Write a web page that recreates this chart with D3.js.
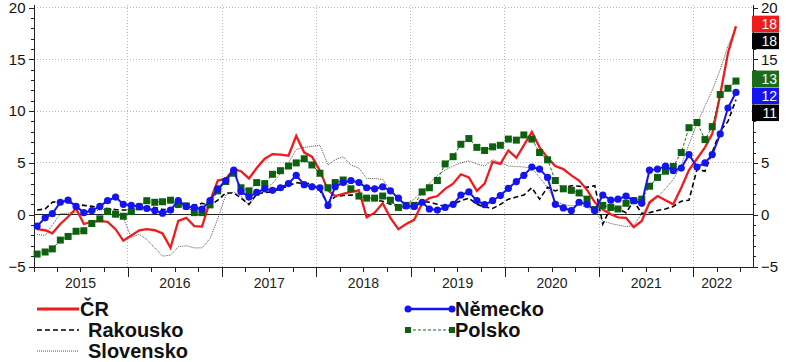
<!DOCTYPE html>
<html>
<head>
<meta charset="utf-8">
<script src="https://cdnjs.cloudflare.com/ajax/libs/d3/7.8.5/d3.min.js"></script>
<style>
  body { margin: 0; background: #fff; }
  svg { display: block; font-family: "Liberation Sans", Arial, sans-serif; }
  .axis path, .axis line { stroke: #222; shape-rendering: crispEdges; }
  .axis text { font-size: 15px; fill: #111; }
  .grid line { stroke: #b8b8b8; stroke-dasharray: 1,2; shape-rendering: crispEdges; }
  .legend text { font-size: 20px; font-weight: bold; fill: #111; }
</style>
</head>
<body>
<div class="g-chart"></div>
<script>
//Years shown on the x axis
var years = [2015, 2016, 2017, 2018, 2019, 2020, 2021, 2022];

//Left / right axis ticks
var yTicks = [-5, 0, 5, 10, 15, 20];

//Monthly values, Jan 2015 - Jun 2022
var cr = [-1.4, -1.5, -1.8, -0.9, -0.2, 0.6, -0.9, -0.7, -0.6, -0.7, -1.4, -2.5,
          -2.0, -1.5, -1.4, -1.5, -1.8, -3.2, -0.6, -0.3, -1.1, -1.15, 1.3, 3.3,
          3.45, 4.4, 4.2, 3.5, 4.5, 5.4, 5.85, 5.8, 5.7, 7.6, 6.0, 5.6,
          4.25, 2.35, 1.8, 2.0, 2.2, 2.35, -0.25, 0.2, 1.1, -0.3, -1.4, -0.9,
          -0.5, 1.1, 1.6, 1.8, 2.5, 3.0, 3.9, 3.6, 2.3, 3.0, 5.1, 4.9,
          6.2, 5.5, 6.7, 8.0, 6.5, 5.5, 4.7, 4.4, 3.8, 3.3, 2.4, 1.2,
          0.5, 0.05, -0.25, -0.3, -1.2, -0.6, 1.2, 1.8, 1.4, 1.0, 2.6, 4.3,
          5.4, 6.5, 7.8, 11.6, 15.6, 18.2];

var rakousko = [0.45, 0.55, 1.2, 1.3, 1.2, 1.0, 0.9, 0.8, 0.7, 0.6, 0.5, 0.45,
          0.45, 0.55, 0.8, 0.7, 0.5, 0.5, 0.75, 0.95, 0.9, 1.1, 0.9, 1.4,
          2.1, 2.1, 1.6, 1.0, 2.0, 2.15, 2.2, 2.5, 2.8, 3.1, 3.0, 3.0,
          2.3, 1.1, 1.75, 1.85, 1.9, 1.85, 1.6, 1.4, 1.3, 1.0, 0.85, 0.7,
          0.9, 1.3, 1.2, 1.0, 0.8, 1.0, 1.35, 1.6, 1.0, 0.75, 0.6, 1.0,
          1.5, 1.7, 1.9, 2.6, 1.5, 2.65, 2.3, 2.6, 2.8, 2.75, 2.65, 2.8,
          -0.9, 0.7, 0.55, 0.2, 1.3, 0.1, 0.2, 0.4, 0.55, 0.8, 1.3, 1.4,
          4.4, 4.2, 6.0, 8.1, 9.0, 11.1];

var slovensko = [-1.9, -2.0, -1.0, 0.1, 0.15, 0.25, 0.1, 0.3, 0.45, 0.55, 0.4, -0.3,
          -2.2, -1.9, -2.4, -3.2, -4.0, -3.9, -3.1, -3.0, -3.2, -3.2, -2.3, -0.4,
          1.9, 2.2, 1.8, 0.9, 2.0, 2.5, 3.0, 4.0, 5.0, 6.3, 6.5, 6.6,
          6.7, 4.8, 5.3, 5.6, 4.8, 4.5, 3.5, 3.5, 3.4, 2.4, 1.4, 1.0,
          1.5, 2.2, 3.0, 3.8, 4.3, 4.7, 5.0, 5.2, 4.9, 4.7, 5.3, 5.05,
          4.7, 4.65, 4.6, 4.5, 3.6, 2.6, 1.3, 1.0, 0.85, 0.95, 0.7, 0.2,
          -0.6, -0.85, -1.0, -1.15, -1.05, 0.1, 1.0, 1.7, 2.5, 3.4, 4.8, 6.8,
          8.8, 10.5, 12.0, 14.0, 16.3, 18.0];

var nemecko = [-1.1, -0.3, 0.1, 1.2, 1.4, 0.8, 0.2, 0.4, 0.8, 1.35, 1.7, 1.0,
          0.9, 0.8, 0.6, 0.4, 0.15, 0.45, 1.35, 0.8, 0.7, 0.55, 1.35, 2.5,
          3.3, 4.3, 2.25, 1.7, 2.15, 2.5, 2.35, 2.6, 3.0, 3.8, 2.9, 2.7,
          2.6, 0.9, 2.7, 3.1, 3.3, 3.1, 2.6, 2.5, 2.7, 2.3, 1.6, 0.85,
          0.8, 1.2, 0.55, 0.45, 0.7, 1.0, 1.9, 2.2, 1.35, 0.97, 1.35, 1.85,
          2.55, 3.2, 3.8, 4.6, 4.4, 3.6, 1.0, 0.65, 0.4, 1.2, 1.0, 0.4,
          1.9, 1.4, 1.5, 1.8, 1.35, 1.1, 4.3, 4.4, 4.7, 4.25, 4.5, 5.8,
          4.6, 5.0, 5.8, 7.8, 10.3, 11.8];

var polsko = [-3.8, -3.6, -3.3, -2.45, -2.1, -1.6, -1.55, -0.85, -0.4, 0.3, 0.05, -0.15,
          0.3, 0.75, 1.35, 1.2, 1.25, 1.4, 1.0, 0.85, 0.2, 0.2, 0.95, 2.3,
          3.2, 4.0, 2.6, 2.3, 3.1, 3.0, 3.9, 4.25, 4.7, 5.0, 5.4, 4.8,
          4.0, 2.6, 3.1, 3.35, 2.5, 1.8, 1.6, 1.6, 1.8, 1.4, 0.7, 0.9,
          0.9, 2.2, 2.6, 3.3, 4.9, 5.6, 6.8, 7.35, 6.5, 6.2, 6.55, 6.7,
          7.3, 7.2, 7.7, 7.3, 6.0, 5.3, 3.3, 2.5, 2.35, 2.1, 1.5, 0.5,
          0.9, 0.7, 0.55, 1.1, 1.35, 1.5, 2.75, 3.6, 4.2, 4.65, 6.0, 8.4,
          8.9, 7.25, 8.5, 11.6, 12.2, 12.9];

//Series names, in drawing order
var names = ["Slovensko", "Rakousko", "ČR", "Polsko", "Německo"];

var width = 786,
    height = 362;

var svg = d3.select(".g-chart").append("svg")
  .attr("width", width)
  .attr("height", height);

//Scales
var xScale = d3.scaleTime()
  .domain([new Date(2015, 0, 1), new Date(2022, 7, 20)])
  .range([33.5, 753]);

var yScale = d3.scaleLinear()
  .domain([-5, 20.3])
  .range([266.5, 4.4]);

//Dates in the middle of each month
function toPoints(values) {
  return values.map(function(v, i) {
    return {date: new Date(2015, i, 15), v: v};
  });
}

var series = {
  "ČR": {values: toPoints(cr), color: "#ee1c1c", width: 2.3, dash: null},
  "Rakousko": {values: toPoints(rakousko), color: "#000", width: 1.6, dash: "5,3"},
  "Slovensko": {values: toPoints(slovensko), color: "#555", width: 1, dash: "1,1"},
  "Německo": {values: toPoints(nemecko), color: "#1414f0", width: 2, dash: null},
  "Polsko": {values: toPoints(polsko), color: "#1b6b1b", width: 1, dash: "3,2"}
};

var x0 = xScale.range()[0], x1 = xScale.range()[1];

//Last value boxes on the right, stacked to avoid overlap
var lastVals = [
  {v: cr[cr.length - 1], color: "#ee1c1c"},
  {v: slovensko[slovensko.length - 1], color: "#000"},
  {v: polsko[polsko.length - 1], color: "#1b6b1b"},
  {v: nemecko[nemecko.length - 1], color: "#1414f0"},
  {v: rakousko[rakousko.length - 1], color: "#000"}
];

var boxH = 17, prevY = -100;
lastVals.forEach(function(d) {
  d.cy = Math.max(yScale(d.v) - 2, prevY + boxH);
  prevY = d.cy;
});

//Right axis labels hidden behind a box are left out
var rightTicks = yTicks.filter(function(t) {
  return !lastVals.some(function(d) { return Math.abs(yScale(t) - d.cy) < boxH / 2 + 5; });
});

//Gridlines
var grid = svg.append("g").attr("class", "grid");

grid.selectAll(".hgrid")
  .data([5, 10, 15, 20])
  .enter().append("line")
  .attr("x1", x0).attr("x2", x1)
  .attr("y1", function(d) { return yScale(d); })
  .attr("y2", function(d) { return yScale(d); });

grid.selectAll(".vgrid")
  .data(years.slice(1))
  .enter().append("line")
  .attr("x1", function(d) { return xScale(new Date(d, 0, 1)); })
  .attr("x2", function(d) { return xScale(new Date(d, 0, 1)); })
  .attr("y1", yScale(-5))
  .attr("y2", yScale(20.3));

//Zero line
svg.append("line")
  .attr("x1", x0).attr("x2", x1)
  .attr("y1", yScale(0)).attr("y2", yScale(0))
  .attr("stroke", "#222")
  .attr("shape-rendering", "crispEdges");

//Left axis with minor ticks
var minor = d3.range(-5, 21);

svg.append("g")
  .attr("class", "axis")
  .attr("transform", "translate(" + x0 + ",0)")
  .call(d3.axisLeft(yScale).tickValues(minor).tickSize(3).tickFormat("").tickSizeOuter(0));

svg.append("g")
  .attr("class", "axis")
  .attr("transform", "translate(" + x0 + ",0)")
  .call(d3.axisLeft(yScale).tickValues(yTicks).tickSize(5).tickSizeOuter(0));

//Right axis
svg.append("g")
  .attr("class", "axis")
  .attr("transform", "translate(" + x1 + ",0)")
  .call(d3.axisRight(yScale).tickValues(minor).tickSize(3).tickFormat("").tickSizeOuter(0));

svg.append("g")
  .attr("class", "axis")
  .attr("transform", "translate(" + x1 + ",0)")
  .call(d3.axisRight(yScale).tickValues(yTicks).tickSize(5).tickFormat("").tickSizeOuter(0));

svg.append("g")
  .attr("class", "axis")
  .attr("transform", "translate(" + x1 + ",0)")
  .call(d3.axisRight(yScale).tickValues(rightTicks).tickSize(5).tickSizeOuter(0))
  .select(".domain").remove();

//Bottom axis: quarter ticks, longer year ticks
var quarters = d3.timeMonth.every(3).range(new Date(2015, 0, 1), new Date(2022, 7, 20));

svg.append("g")
  .attr("class", "axis")
  .attr("transform", "translate(0," + yScale(-5) + ")")
  .call(d3.axisBottom(xScale).tickValues(quarters).tickSize(5).tickFormat("").tickSizeOuter(0));

svg.append("g")
  .attr("class", "axis")
  .attr("transform", "translate(0," + yScale(-5) + ")")
  .call(d3.axisBottom(xScale).tickValues(years.slice(1).map(function(d) { return new Date(d, 0, 1); }))
    .tickSize(10).tickFormat("").tickSizeOuter(0));

//Year labels centred in each year
svg.append("g")
  .selectAll("text")
  .data(years)
  .enter().append("text")
  .attr("x", function(d) {
    var end = d === 2022 ? new Date(2022, 6, 1) : new Date(d + 1, 0, 1);
    return (xScale(new Date(d, 0, 1)) + xScale(end)) / 2;
  })
  .attr("y", 288)
  .attr("text-anchor", "middle")
  .style("font-size", "14px")
  .style("fill", "#222")
  .text(function(d) { return d; });

//Lines
var line = d3.line()
  .x(function(d) { return xScale(d.date); })
  .y(function(d) { return yScale(d.v); });

names.forEach(function(name) {
  var s = series[name];
  svg.append("path")
    .datum(s.values)
    .attr("fill", "none")
    .attr("stroke", s.color)
    .attr("stroke-width", s.width)
    .attr("stroke-dasharray", s.dash)
    .attr("d", line);

  if (name === "Polsko") {
    svg.selectAll(".sq")
      .data(s.values)
      .enter().append("rect")
      .attr("x", function(d) { return xScale(d.date) - 3.5; })
      .attr("y", function(d) { return yScale(d.v) - 3.5; })
      .attr("width", 7)
      .attr("height", 7)
      .attr("fill", "#0d600d");
  }
  if (name === "Německo") {
    svg.selectAll(".dot")
      .data(s.values)
      .enter().append("circle")
      .attr("cx", function(d) { return xScale(d.date); })
      .attr("cy", function(d) { return yScale(d.v); })
      .attr("r", 3.6)
      .attr("fill", s.color);
  }
});

//Value boxes
lastVals.forEach(function(d) {
  svg.append("rect")
    .attr("x", 752)
    .attr("y", d.cy - boxH / 2)
    .attr("width", 27)
    .attr("height", boxH - 0.5)
    .attr("fill", d.color);
  svg.append("text")
    .attr("x", 777)
    .attr("y", d.cy + 5)
    .attr("text-anchor", "end")
    .style("font-size", "14px")
    .style("fill", "#fff")
    .text(Math.round(d.v));
});

//Legend
var legend = svg.append("g").attr("class", "legend");

var legendItems = [
  {name: "ČR", x: 37, y: 309, tx: 80},
  {name: "Rakousko", x: 37, y: 330, tx: 88},
  {name: "Slovensko", x: 37, y: 351, tx: 88},
  {name: "Německo", x: 408, y: 309, tx: 455},
  {name: "Polsko", x: 408, y: 330, tx: 455}
];

legendItems.forEach(function(d) {
  var s = series[d.name];
  var xe = d.x + (d.tx > 100 ? 44 : 42);
  legend.append("line")
    .attr("x1", d.x).attr("x2", xe)
    .attr("y1", d.y).attr("y2", d.y)
    .attr("stroke", s.color)
    .attr("stroke-width", d.name === "ČR" ? 3 : (d.name === "Německo" ? 2.5 : s.width))
    .attr("stroke-dasharray", s.dash);
  if (d.name === "Německo") {
    [d.x, xe].forEach(function(px) {
      legend.append("circle").attr("cx", px).attr("cy", d.y).attr("r", 3.5).attr("fill", s.color);
    });
  }
  if (d.name === "Polsko") {
    [d.x, xe].forEach(function(px) {
      legend.append("rect").attr("x", px - 3).attr("y", d.y - 3).attr("width", 6).attr("height", 6).attr("fill", "#0d600d");
    });
  }
  legend.append("text")
    .attr("x", d.tx)
    .attr("y", d.y + 7)
    .text(d.name);
});
</script>
</body>
</html>
